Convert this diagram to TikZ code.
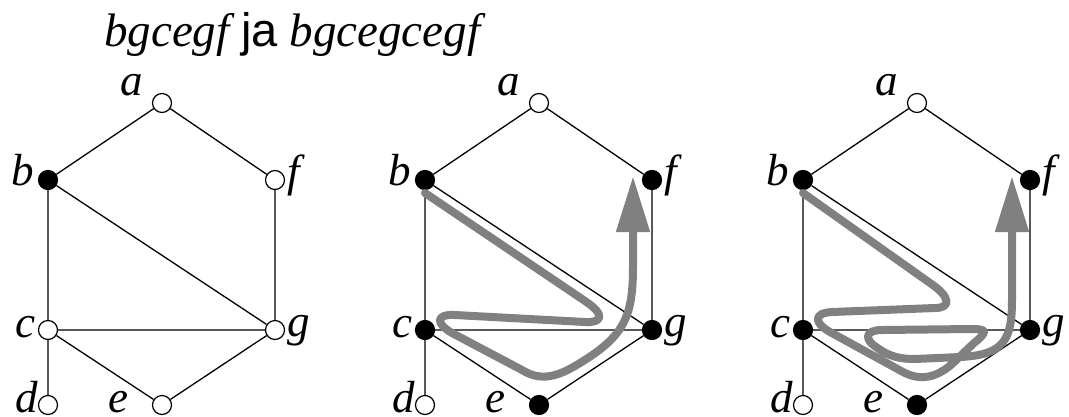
\documentclass[tikz,border=0pt]{standalone}
\usepackage{fontspec}
\setmainfont{Liberation Serif}[ItalicFont={Liberation Serif Italic}]
\newfontfamily\timesit{Liberation Serif Italic}
\newfontfamily\sansja{Liberation Sans}
\usetikzlibrary{arrows.meta}
\tikzset{
  vtx/.style={circle,draw=black,line width=1.2pt,minimum size=19pt,inner sep=0pt,fill=white},
  blk/.style={fill=black},
  edge/.style={line width=1.3pt,black},
  lbl/.style={inner sep=0pt,font=\fontsize{45}{45}\timesit},
  walk/.style={line width=8pt,draw=gray,line cap=round,line join=round},
  walkarrow/.style={walk,-{Triangle[length=56pt,width=32pt]}}
}
\newcommand{\hexgraph}[8]{%
  \node[vtx,#2] (a#1) at (162,103) {};
  \node[vtx,#3] (b#1) at (48,180) {};
  \node[vtx,#4] (c#1) at (48,330) {};
  \node[vtx,#5] (d#1) at (48,405) {};
  \node[vtx,#6] (e#1) at (162,405) {};
  \node[vtx,#7] (f#1) at (275,180) {};
  \node[vtx,#8] (g#1) at (275,330) {};
  \draw[edge] (a#1)--(b#1) (a#1)--(f#1) (b#1)--(c#1) (b#1)--(g#1) (f#1)--(g#1)
              (c#1)--(g#1) (c#1)--(d#1) (c#1)--(e#1) (e#1)--(g#1);
  \node[lbl,anchor=base east] (la#1) at (143,95) {a};
  \node[lbl,anchor=base east] (lb#1) at (34,185) {b};
  \node[lbl,anchor=base east] (lc#1) at (36,337) {c};
  \node[lbl,anchor=base east,text depth=0pt] (ld#1) at (38,412) {d};
  \node[lbl,anchor=base east,text depth=0pt] (le#1) at (129,412) {e};
  \node[lbl,anchor=base west] (lf#1) at (287,186) {f};
  \node[lbl,anchor=base west] (lg#1) at (287,336) {g};
}
\begin{document}
\begin{tikzpicture}[x=1pt,y=-1pt]
\useasboundingbox (0,0) rectangle (1069,416);
\node[inner sep=0pt,anchor=base west,font=\fontsize{47}{47}\selectfont] (title) at (104,46)
  {{\timesit bgcegf} {\sansja ja} {\timesit bgcegcegf}};
\begin{scope}
  \hexgraph{L}{}{blk}{}{}{}{}{}
\end{scope}
\begin{scope}[xshift=377pt]
  \hexgraph{M}{}{blk}{blk}{}{blk}{blk}{blk}
\end{scope}
\begin{scope}[xshift=755pt]
  \hexgraph{R}{}{blk}{blk}{}{blk}{blk}{blk}
\end{scope}
% walk b g c e g f
\draw[walkarrow] (425,193) -- (585,301) .. controls (606,315) and (602,323) .. (585,322)
  -- (455,315) .. controls (436,314) and (435,323) .. (452,333)
  -- (522,370) .. controls (540,381) and (556,378) .. (580,363)
  .. controls (626,335) and (633,315) .. (633,265) -- (633,176);
% walk b g c e g c e g f
\draw[walkarrow] (803,193) -- (930,283) .. controls (951,297) and (951,308) .. (935,308)
  -- (832,312) .. controls (813,313) and (814,323) .. (830,332)
  -- (903,372) .. controls (920,381) and (936,378) .. (952,364)
  -- (974,343) .. controls (989,331) and (986,329) .. (972,329)
  -- (882,330) .. controls (864,330) and (865,340) .. (876,347)
  .. controls (890,357) and (900,359) .. (915,359)
  -- (960,357) .. controls (1004,355) and (1012,340) .. (1012,300) -- (1012,176);
\end{tikzpicture}
\end{document}
